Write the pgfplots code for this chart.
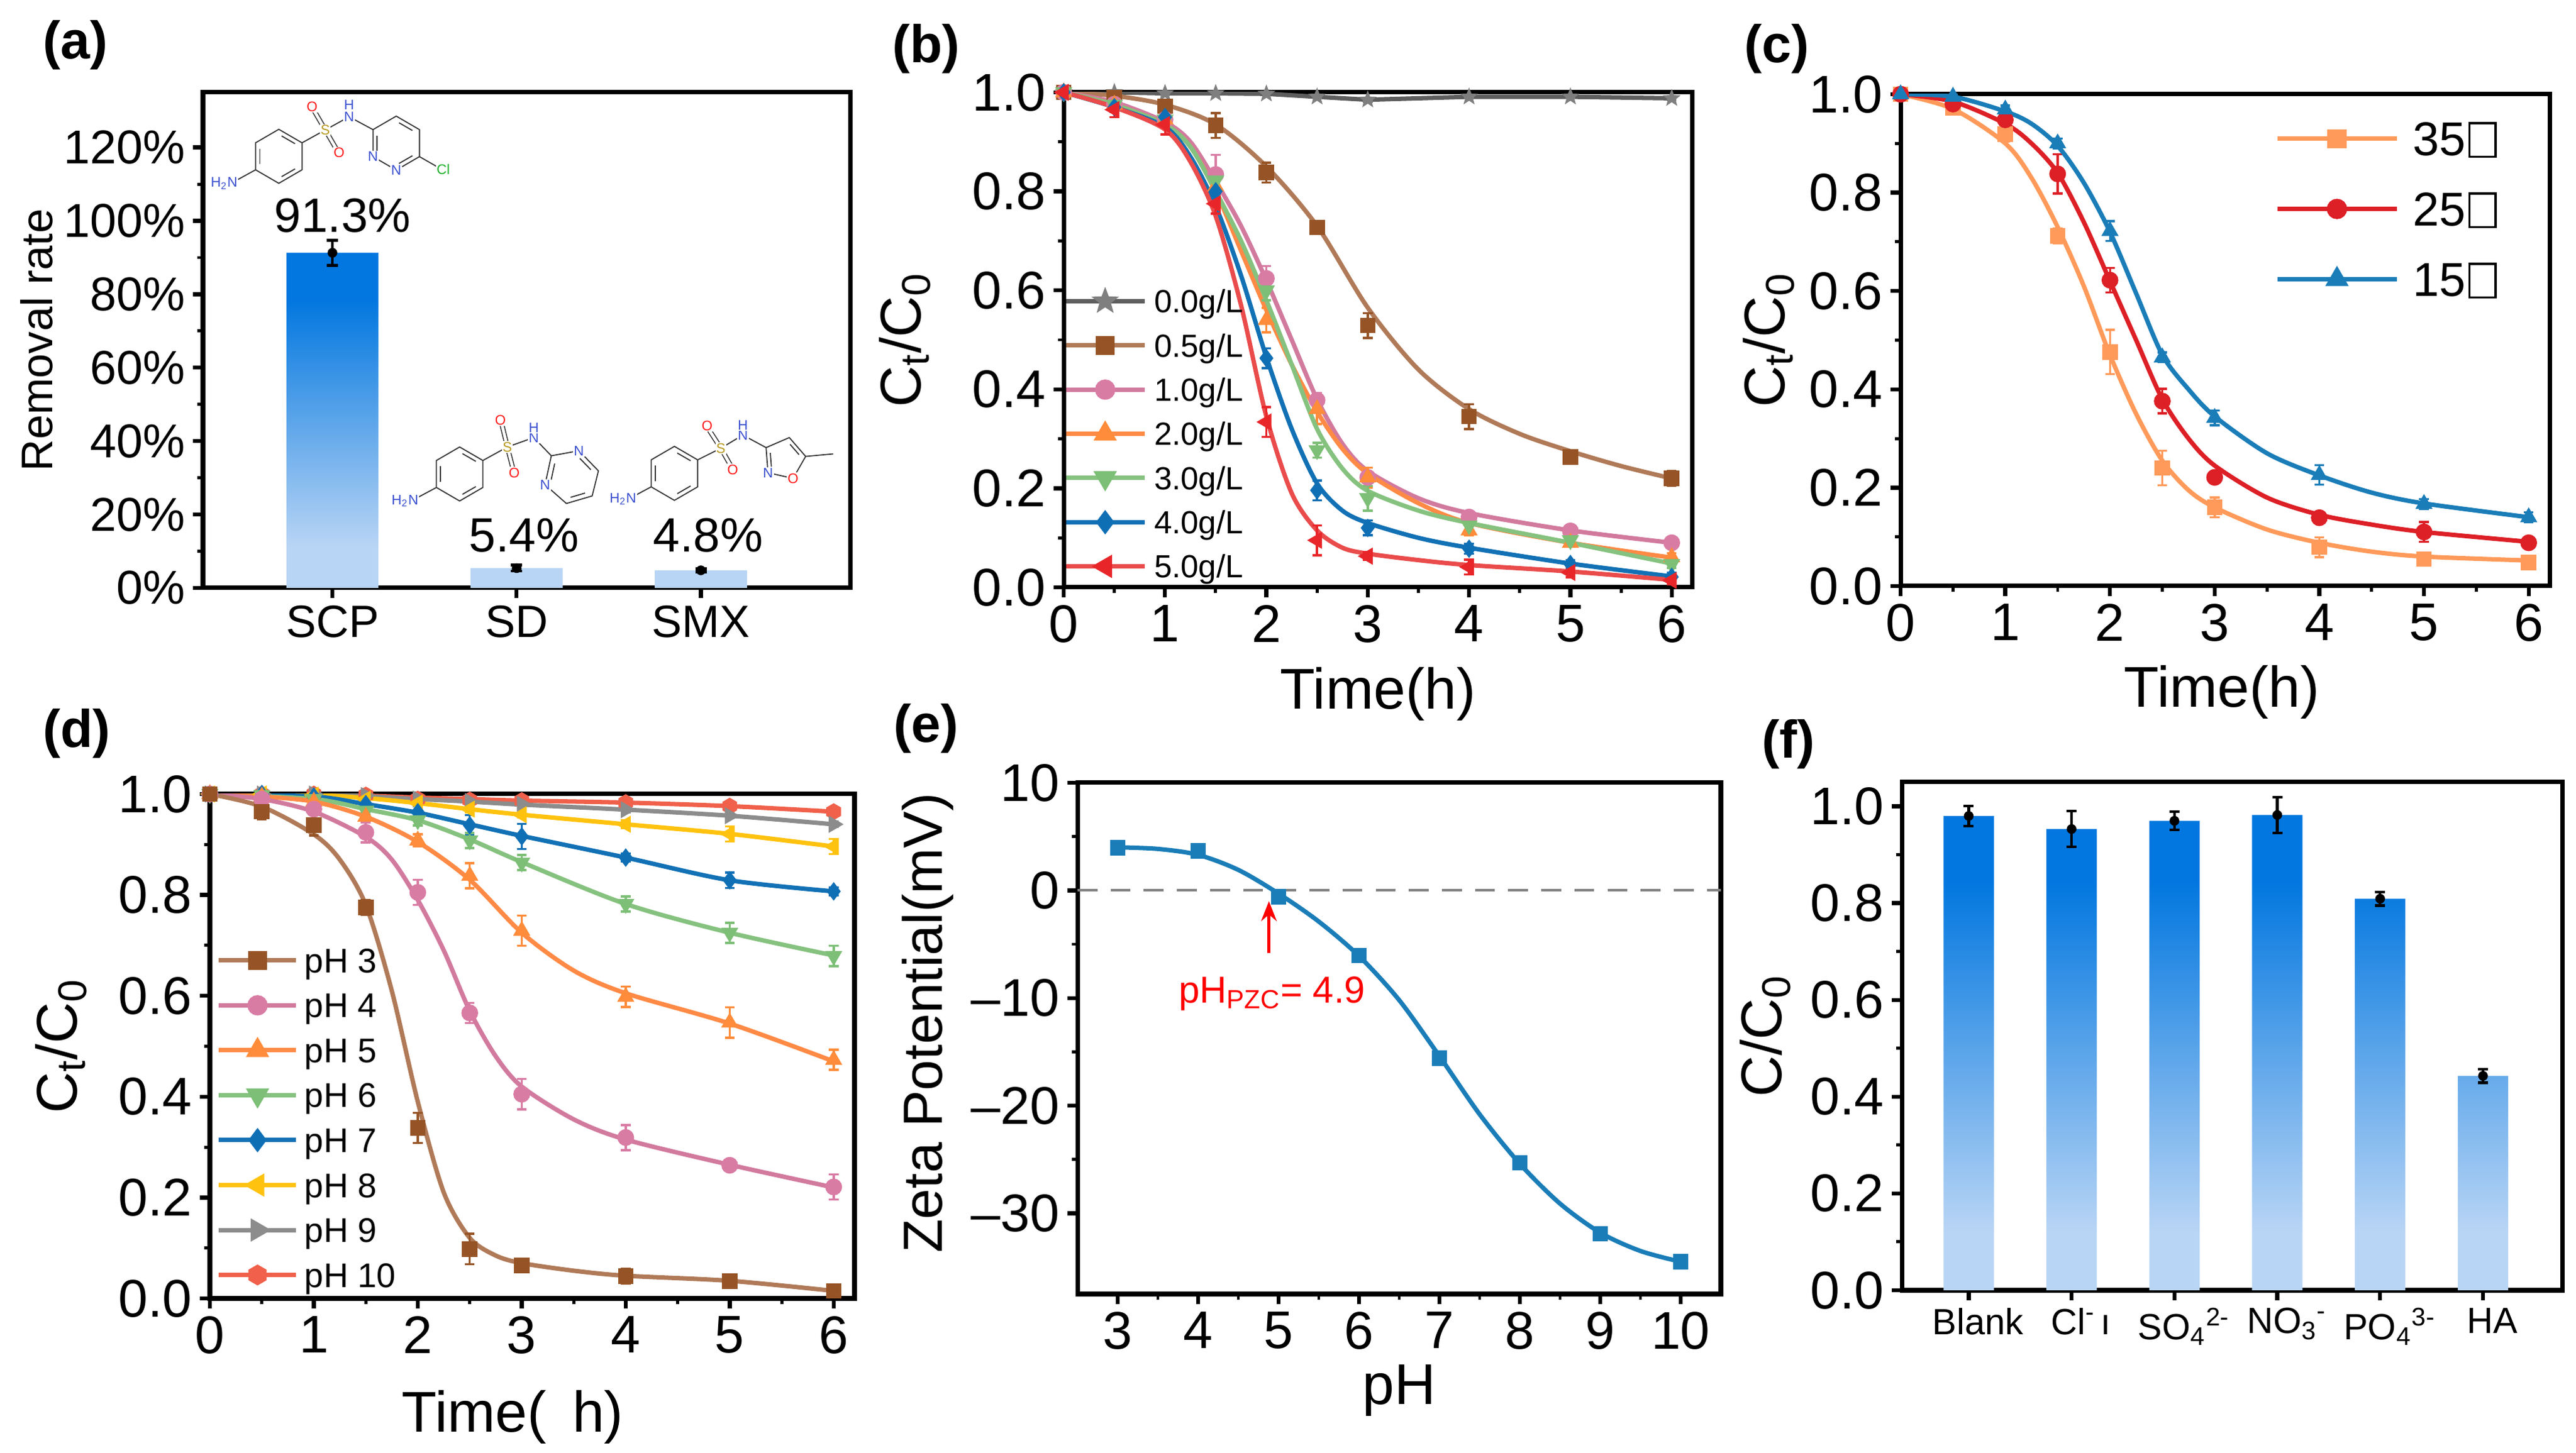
\documentclass[border=0pt]{standalone}
\usepackage{fontspec}
\setmainfont{Liberation Sans}
\usepackage{pgfplots}
\pgfplotsset{compat=1.18}
\usetikzlibrary{calc,arrows.meta}

\definecolor{barD}{HTML}{0277DF}
\definecolor{barL}{HTML}{B9D5F5}
\pgfdeclareverticalshading{barshade}{100bp}{color(0bp)=(barL); color(25bp)=(barL); color(31bp)=(barL); color(68bp)=(barD); color(75bp)=(barD); color(100bp)=(barD)}

\definecolor{grL}{HTML}{5E5E5E}\definecolor{grM}{HTML}{7F7F7F}
\definecolor{brL}{HTML}{B07A58}\definecolor{brM}{HTML}{965426}
\definecolor{pkL}{HTML}{D27A9E}\definecolor{pkM}{HTML}{D97CA4}
\definecolor{orL}{HTML}{FF8A45}\definecolor{orM}{HTML}{FF8C3A}
\definecolor{gnL}{HTML}{86C27F}\definecolor{gnM}{HTML}{7DBF76}
\definecolor{blL}{HTML}{1271B5}\definecolor{blM}{HTML}{0F6FB5}
\definecolor{rdL}{HTML}{EA4B4B}\definecolor{rdM}{HTML}{E8262A}
\definecolor{cA}{HTML}{FF9A5A}\definecolor{cB}{HTML}{DD1F26}\definecolor{cC}{HTML}{1A7DB8}
\definecolor{yeL}{HTML}{FFC20E}\definecolor{g9}{HTML}{8C8C8C}\definecolor{p10}{HTML}{F0604A}
\definecolor{zeta}{HTML}{1A7DB8}
\definecolor{atN}{HTML}{3A4FD0}\definecolor{atO}{HTML}{FF1A1A}\definecolor{atS}{HTML}{B89A20}\definecolor{atCl}{HTML}{1DB02A}
\definecolor{bondc}{HTML}{333333}

\pgfdeclareplotmark{fstar}{%
 \pgfpathmoveto{\pgfpointpolar{90}{\pgfplotmarksize}}%
 \pgfpathlineto{\pgfpointpolar{126}{0.42\pgfplotmarksize}}%
 \pgfpathlineto{\pgfpointpolar{162}{\pgfplotmarksize}}%
 \pgfpathlineto{\pgfpointpolar{198}{0.42\pgfplotmarksize}}%
 \pgfpathlineto{\pgfpointpolar{234}{\pgfplotmarksize}}%
 \pgfpathlineto{\pgfpointpolar{270}{0.42\pgfplotmarksize}}%
 \pgfpathlineto{\pgfpointpolar{306}{\pgfplotmarksize}}%
 \pgfpathlineto{\pgfpointpolar{342}{0.42\pgfplotmarksize}}%
 \pgfpathlineto{\pgfpointpolar{18}{\pgfplotmarksize}}%
 \pgfpathlineto{\pgfpointpolar{54}{0.42\pgfplotmarksize}}%
 \pgfpathclose\pgfusepathqfillstroke}
\pgfdeclareplotmark{tdown}{%
 \pgfpathmoveto{\pgfpointpolar{-90}{\pgfplotmarksize}}%
 \pgfpathlineto{\pgfpointpolar{30}{\pgfplotmarksize}}%
 \pgfpathlineto{\pgfpointpolar{150}{\pgfplotmarksize}}%
 \pgfpathclose\pgfusepathqfillstroke}
\pgfdeclareplotmark{tleft}{%
 \pgfpathmoveto{\pgfpointpolar{180}{\pgfplotmarksize}}%
 \pgfpathlineto{\pgfpointpolar{60}{\pgfplotmarksize}}%
 \pgfpathlineto{\pgfpointpolar{-60}{\pgfplotmarksize}}%
 \pgfpathclose\pgfusepathqfillstroke}
\pgfdeclareplotmark{tright}{%
 \pgfpathmoveto{\pgfpointpolar{0}{\pgfplotmarksize}}%
 \pgfpathlineto{\pgfpointpolar{120}{\pgfplotmarksize}}%
 \pgfpathlineto{\pgfpointpolar{240}{\pgfplotmarksize}}%
 \pgfpathclose\pgfusepathqfillstroke}
\pgfdeclareplotmark{hexa}{%
 \pgfpathmoveto{\pgfpointpolar{30}{\pgfplotmarksize}}%
 \pgfpathlineto{\pgfpointpolar{90}{\pgfplotmarksize}}%
 \pgfpathlineto{\pgfpointpolar{150}{\pgfplotmarksize}}%
 \pgfpathlineto{\pgfpointpolar{210}{\pgfplotmarksize}}%
 \pgfpathlineto{\pgfpointpolar{270}{\pgfplotmarksize}}%
 \pgfpathlineto{\pgfpointpolar{330}{\pgfplotmarksize}}%
 \pgfpathclose\pgfusepathqfillstroke}

\newcommand{\nog}{\hspace{0.06em}{\setlength{\fboxsep}{0pt}\setlength{\fboxrule}{1pt}\fbox{\rule{0pt}{0.66em}\hspace{0.5em}}}}

\pgfplotsset{
 P/.style={scale only axis, anchor=south west,
  axis line style={line width=2pt},
  tick style={black, line width=1.8pt}, minor tick style={line width=1.4pt},
  major tick length=0.16cm, minor tick length=0.09cm,
  tick align=outside, tick pos=left,
  tick label style={font=\fontsize{24}{28}\selectfont},
  /pgf/number format/assume math mode=true,
  label style={font=\fontsize{26}{30}\selectfont},
  xlabel style={anchor=center}, ylabel style={anchor=center},
  legend cell align=left},
 Y1/.style={yticklabel style={/pgf/number format/.cd, fixed, fixed zerofill, precision=1}},
 mSq/.style={mark=square*, mark size=3.3pt},
 mCi/.style={mark=*, mark size=3.6pt},
 mTu/.style={mark=triangle*, mark size=4.1pt},
 mTd/.style={mark=tdown, mark size=4.1pt},
 mTl/.style={mark=tleft, mark size=4.1pt},
 mTr/.style={mark=tright, mark size=4.1pt},
 mDi/.style={mark=diamond*, mark size=3.9pt},
 mSt/.style={mark=fstar, mark size=3.7pt},
 mHx/.style={mark=hexa, mark size=3.6pt},
}

% series: line colour, mark colour, mark style, marks table, curve, line type
\newcommand{\ser}[6]{%
 \addplot[forget plot, #6, color=#1, line width=2pt] coordinates {#5};
 \addplot[forget plot, only marks, color=#2, #3,
   error bars/.cd, y dir=both, y explicit,
   error bar style={line width=1pt, color=#2},
   error mark options={rotate=90, mark size=2.2pt, line width=1pt, color=#2}]
   table[row sep=\\, y error index=2] {#4};
}
% pointy-top hexagon, r = 43 px, inner lines on left, top-right and bottom-right edges
\newcommand{\hexring}[2]{%
  \draw[bond] (#1,#2-43) -- (#1+37,#2-21.5) -- (#1+37,#2+21.5) -- (#1,#2+43) -- (#1-37,#2+21.5) -- (#1-37,#2-21.5) -- cycle;
  \draw[bond] (#1+4.5,#2-32.4) -- (#1+25.8,#2-20.1);
  \draw[bond] (#1+25.8,#2+20.1) -- (#1+4.5,#2+32.4);
  \draw[bond] (#1-30.3,#2-12.3) -- (#1-30.3,#2+12.3);}

\begin{document}
\begin{tikzpicture}
\useasboundingbox (0,0) rectangle (41cm,23.13cm);

% ---------------- (a)
\begin{axis}[P, at={(3.23cm,13.77cm)}, width=10.30cm, height=7.89cm,
 xmin=0.297, xmax=3.81, ymin=0, ymax=135,
 xtick={1,2,3}, xticklabels={SCP,SD,SMX},
 xticklabel style={font=\fontsize{20.5}{24}\selectfont},
 yticklabel style={font=\fontsize{21.5}{25}\selectfont},
 ytick={0,20,40,60,80,100,120}, yticklabels={0\%,20\%,40\%,60\%,80\%,100\%,120\%},
 minor y tick num=1,
 ylabel={Removal rate},
 ylabel style={at={(axis description cs:-0.257,0.5)}, font=\fontsize{20}{24}\selectfont}]
\addplot[ybar, bar width=0.5, draw=none, shading=barshade] coordinates {(1,91.3) (2,5.4) (3,4.8)};
\addplot[only marks, mark=none, black, error bars/.cd, y dir=both, y explicit,
  error bar style={line width=1.3pt, black},
  error mark options={rotate=90, mark size=0.09cm, line width=1.3pt, black}]
  coordinates {(1,91.3) +- (0,3.4) (2,5.4) +- (0,0.8) (3,4.8) +- (0,0.4)};
\node[font=\fontsize{21.8}{26}\selectfont] at (axis cs:1.055,101.4) {91.3\%};
\node[font=\fontsize{21.8}{26}\selectfont] at (axis cs:2.04,14.3) {5.4\%};
\node[font=\fontsize{21.8}{26}\selectfont] at (axis cs:3.04,14.3) {4.8\%};
\end{axis}

% ---------------- (b)
\begin{axis}[P, Y1, at={(16.93cm,13.78cm)}, width=10.0cm, height=7.88cm,
 xmin=0, xmax=6.2, ymin=0, ymax=1,
 xtick={0,1,2,3,4,5,6}, ytick={0,0.2,0.4,0.6,0.8,1.0},
 minor x tick num=1, minor y tick num=1,
 xlabel={Time(h)}, ylabel={C\textsubscript{t}/C\textsubscript{0}},
 xlabel style={at={(axis description cs:0.5,-0.216)}},
 ylabel style={at={(axis description cs:-0.253,0.5)}},
 legend image code/.code={\draw[mark repeat=2,mark phase=2] plot coordinates {(0cm,0cm) (0.625cm,0cm) (1.25cm,0cm)};},
 legend style={at={(axis description cs:0,0.613)}, anchor=north west, draw=none, fill=none,
   inner sep=0pt, outer sep=0pt, row sep=0.151cm, column sep=0.12cm,
   font=\fontsize{14.5}{17}\selectfont,
   nodes={inner sep=0pt, text height=13.05pt, text depth=2.67pt}}]
\ser{grL}{grM}{mSt}{0 1.000 0\\0.5 1.000 0\\1 0.998 0.003\\1.5 0.998 0\\2 0.997 0\\2.5 0.991 0.003\\3 0.985 0.004\\4 0.991 0.003\\5 0.991 0.002\\6 0.988 0.003\\}
 {(0,1.000)(0.5,1.000)(1,0.998)(1.5,0.998)(2,0.997)(2.5,0.991)(3,0.985)(4,0.991)(5,0.991)(6,0.988)}{sharp plot}
\ser{brL}{brM}{mSq}{0 1.000 0\\0.5 0.990 0.005\\1 0.972 0.012\\1.5 0.933 0.025\\2 0.838 0.020\\2.5 0.727 0.010\\3 0.529 0.025\\4 0.345 0.025\\5 0.263 0.010\\6 0.220 0.015\\}
 {(0,1)(0.5,0.993)(1,0.975)(1.5,0.935)(2,0.85)(2.5,0.73)(3,0.565)(3.5,0.44)(4,0.36)(4.5,0.31)(5,0.275)(5.5,0.245)(6,0.22)}{smooth}
\ser{pkL}{pkM}{mCi}{0 1.000 0\\0.5 0.976 0.010\\1 0.945 0.015\\1.5 0.834 0.040\\2 0.624 0.025\\2.5 0.378 0.015\\3 0.222 0.010\\4 0.142 0.008\\5 0.114 0.010\\6 0.090 0.008\\}
 {(0,1)(0.5,0.98)(1,0.94)(1.25,0.9)(1.5,0.82)(1.75,0.73)(2,0.62)(2.25,0.5)(2.5,0.38)(2.75,0.29)(3,0.235)(3.5,0.18)(4,0.15)(5,0.115)(6,0.09)}{smooth}
\ser{orL}{orM}{mTu}{0 1.000 0\\0.5 0.975 0.008\\1 0.945 0.010\\1.5 0.810 0.020\\2 0.540 0.025\\2.5 0.360 0.030\\3 0.222 0.020\\4 0.115 0.010\\5 0.090 0.008\\6 0.061 0.008\\}
 {(0,1)(0.5,0.975)(1,0.935)(1.25,0.89)(1.5,0.8)(1.75,0.68)(2,0.56)(2.25,0.45)(2.5,0.355)(2.75,0.28)(3,0.23)(3.5,0.17)(4,0.13)(5,0.09)(6,0.06)}{smooth}
\ser{gnL}{gnM}{mTd}{0 1.000 0\\0.5 0.975 0.008\\1 0.945 0.010\\1.5 0.822 0.015\\2 0.600 0.020\\2.5 0.277 0.015\\3 0.180 0.025\\4 0.125 0.010\\5 0.095 0.010\\6 0.047 0.008\\}
 {(0,1)(0.5,0.975)(1,0.935)(1.25,0.89)(1.5,0.8)(1.75,0.7)(2,0.58)(2.25,0.45)(2.5,0.32)(2.75,0.24)(3,0.195)(3.5,0.155)(4,0.13)(5,0.09)(6,0.048)}{smooth}
\ser{blL}{blM}{mDi}{0 1.000 0\\0.5 0.970 0.010\\1 0.950 0.012\\1.5 0.800 0.030\\2 0.463 0.020\\2.5 0.196 0.020\\3 0.120 0.015\\4 0.078 0.010\\5 0.047 0.008\\6 0.021 0.008\\}
 {(0,1)(0.5,0.97)(1,0.93)(1.25,0.87)(1.5,0.77)(1.75,0.63)(2,0.465)(2.25,0.32)(2.5,0.21)(2.75,0.155)(3,0.13)(3.5,0.1)(4,0.08)(5,0.048)(6,0.022)}{smooth}
\ser{rdL}{rdM}{mTl}{0 1.000 0\\0.5 0.965 0.015\\1 0.935 0.020\\1.5 0.775 0.020\\2 0.334 0.030\\2.5 0.095 0.030\\3 0.063 0.008\\4 0.041 0.015\\5 0.030 0.010\\6 0.014 0.008\\}
 {(0,1)(0.5,0.97)(1,0.925)(1.25,0.86)(1.5,0.75)(1.75,0.57)(2,0.345)(2.25,0.19)(2.5,0.115)(2.75,0.08)(3,0.068)(3.5,0.055)(4,0.045)(5,0.032)(6,0.015)}{smooth}
\addlegendimage{color=grL, line width=2pt, mSt, mark options={color=grM}}\addlegendentry{0.0g/L}
\addlegendimage{color=brL, line width=2pt, mSq, mark options={color=brM}}\addlegendentry{0.5g/L}
\addlegendimage{color=pkL, line width=2pt, mCi, mark options={color=pkM}}\addlegendentry{1.0g/L}
\addlegendimage{color=orL, line width=2pt, mTu, mark options={color=orM}}\addlegendentry{2.0g/L}
\addlegendimage{color=gnL, line width=2pt, mTd, mark options={color=gnM}}\addlegendentry{3.0g/L}
\addlegendimage{color=blL, line width=2pt, mDi, mark options={color=blM}}\addlegendentry{4.0g/L}
\addlegendimage{color=rdL, line width=2pt, mTl, mark options={color=rdM}}\addlegendentry{5.0g/L}
\end{axis}

% ---------------- (c)
\begin{axis}[P, Y1, at={(30.25cm,13.80cm)}, width=10.33cm, height=7.83cm,
 xmin=0, xmax=6.2, ymin=0, ymax=1,
 xtick={0,1,2,3,4,5,6}, ytick={0,0.2,0.4,0.6,0.8,1.0},
 minor x tick num=1, minor y tick num=1,
 xlabel={Time(h)}, ylabel={C\textsubscript{t}/C\textsubscript{0}},
 xlabel style={at={(axis description cs:0.495,-0.216)}},
 ylabel style={at={(axis description cs:-0.203,0.5)}},
 legend image code/.code={\draw[mark repeat=2,mark phase=2] plot coordinates {(0cm,0cm) (0.95cm,0cm) (1.9cm,0cm)};},
 legend style={at={(axis description cs:0.577,0.962)}, anchor=north west, draw=none, fill=none,
   inner sep=0pt, outer sep=0pt, row sep=0.30cm, column sep=0.22cm,
   font=\fontsize{21.5}{25}\selectfont,
   nodes={inner sep=0pt, text height=19.35pt, text depth=3.96pt}}]
\ser{cA}{cA}{mSq}{0 1.000 0\\0.5 0.972 0.010\\1 0.919 0.015\\1.5 0.712 0.015\\2 0.476 0.045\\2.5 0.240 0.035\\3 0.160 0.020\\4 0.079 0.020\\5 0.055 0.010\\6 0.048 0.005\\}
 {(0,1)(0.5,0.97)(1,0.9)(1.25,0.83)(1.5,0.73)(1.75,0.61)(2,0.47)(2.25,0.35)(2.5,0.255)(2.75,0.195)(3,0.16)(3.5,0.115)(4,0.088)(4.5,0.07)(5,0.06)(6,0.052)}{smooth}
\ser{cB}{cB}{mCi}{0 1.000 0\\0.5 0.980 0.008\\1 0.948 0.010\\1.5 0.838 0.040\\2 0.622 0.025\\2.5 0.376 0.025\\3 0.221 0.008\\4 0.139 0.008\\5 0.110 0.020\\6 0.088 0.008\\}
 {(0,1)(0.5,0.985)(1,0.94)(1.25,0.9)(1.5,0.84)(1.75,0.74)(2,0.62)(2.25,0.5)(2.5,0.38)(2.75,0.3)(3,0.245)(3.5,0.18)(4,0.145)(4.5,0.125)(5,0.11)(6,0.09)}{smooth}
\ser{cC}{cC}{mTu}{0 1.000 0\\0.5 0.995 0.005\\1 0.969 0.008\\1.5 0.900 0.010\\2 0.722 0.020\\2.5 0.465 0.010\\3 0.342 0.015\\4 0.226 0.020\\5 0.167 0.010\\6 0.140 0.010\\}
 {(0,1)(0.5,0.995)(1,0.965)(1.25,0.94)(1.5,0.895)(1.75,0.82)(2,0.72)(2.25,0.595)(2.5,0.47)(2.75,0.4)(3,0.345)(3.5,0.27)(4,0.225)(4.5,0.19)(5,0.168)(6,0.14)}{smooth}
\addlegendimage{color=cA, line width=2pt, mSq}\addlegendentry{35\nog}
\addlegendimage{color=cB, line width=2pt, mCi}\addlegendentry{25\nog}
\addlegendimage{color=cC, line width=2pt, mTu}\addlegendentry{15\nog}
\end{axis}

% ---------------- (d)
\begin{axis}[P, Y1, at={(3.34cm,2.46cm)}, width=10.26cm, height=8.03cm,
 xmin=0, xmax=6.2, ymin=0, ymax=1,
 xtick={0,1,2,3,4,5,6}, ytick={0,0.2,0.4,0.6,0.8,1.0},
 minor x tick num=1, minor y tick num=1,
 xlabel={Time(\hspace{0.45em}h)}, ylabel={C\textsubscript{t}/C\textsubscript{0}},
 xlabel style={at={(axis description cs:0.47,-0.235)}},
 ylabel style={at={(axis description cs:-0.231,0.5)}},
 legend image code/.code={\draw[mark repeat=2,mark phase=2] plot coordinates {(0cm,0cm) (0.615cm,0cm) (1.23cm,0cm)};},
 legend style={at={(axis description cs:0.0106,0.707)}, anchor=north west, draw=none, fill=none,
   inner sep=0pt, outer sep=0pt, row sep=0.125cm, column sep=0.1cm,
   font=\fontsize{15.5}{18}\selectfont,
   nodes={inner sep=0pt, text height=13.95pt, text depth=2.85pt}}]
\ser{p10}{p10}{mHx}{0 1.000 0\\0.5 1.000 0\\1 1.000 0\\1.5 0.998 0\\2 0.990 0.005\\2.5 0.988 0.004\\3 0.987 0.004\\4 0.983 0.004\\5 0.976 0.005\\6 0.965 0.005\\}
 {(0,1)(1,1)(2,0.993)(2.5,0.99)(3,0.987)(4,0.983)(5,0.976)(6,0.965)}{smooth}
\ser{g9}{g9}{mTr}{0 1.000 0\\0.5 1.000 0\\1 1.000 0\\1.5 0.997 0\\2 0.990 0.004\\2.5 0.985 0.004\\3 0.980 0.004\\4 0.969 0.005\\5 0.957 0.005\\6 0.940 0.005\\}
 {(0,1)(1,1)(2,0.99)(2.5,0.985)(3,0.979)(4,0.969)(5,0.957)(6,0.94)}{smooth}
\ser{yeL}{yeL}{mTl}{0 1.000 0\\0.5 1.000 0\\1 0.998 0\\1.5 0.990 0.004\\2 0.982 0.005\\2.5 0.970 0.006\\3 0.959 0.006\\4 0.940 0.008\\5 0.921 0.015\\6 0.896 0.015\\}
 {(0,1)(1,0.998)(1.5,0.992)(2,0.982)(2.5,0.97)(3,0.959)(4,0.94)(5,0.921)(6,0.896)}{smooth}
\ser{blL}{blM}{mDi}{0 1.000 0\\0.5 1.000 0\\1 0.995 0.004\\1.5 0.980 0.008\\2 0.964 0.015\\2.5 0.938 0.020\\3 0.916 0.025\\4 0.874 0.008\\5 0.829 0.015\\6 0.807 0.008\\}
 {(0,1)(1,0.995)(1.5,0.98)(2,0.963)(2.5,0.94)(3,0.917)(4,0.874)(5,0.829)(6,0.807)}{smooth}
\ser{gnL}{gnM}{mTd}{0 1.000 0\\0.5 0.998 0\\1 0.990 0.005\\1.5 0.967 0.008\\2 0.948 0.010\\2.5 0.908 0.015\\3 0.864 0.015\\4 0.782 0.015\\5 0.725 0.020\\6 0.679 0.020\\}
 {(0,1)(1,0.99)(1.5,0.97)(2,0.948)(2.5,0.91)(3,0.865)(4,0.782)(5,0.725)(6,0.68)}{smooth}
\ser{orL}{orM}{mTu}{0 1.000 0\\0.5 0.995 0.004\\1 0.985 0.006\\1.5 0.955 0.010\\2 0.908 0.012\\2.5 0.838 0.025\\3 0.729 0.030\\4 0.598 0.020\\5 0.547 0.030\\6 0.473 0.020\\}
 {(0,1)(0.5,0.995)(1,0.985)(1.5,0.955)(2,0.905)(2.5,0.83)(3,0.725)(3.5,0.65)(4,0.605)(5,0.545)(6,0.47)}{smooth}
\ser{pkL}{pkM}{mCi}{0 1.000 0\\0.5 0.990 0.005\\1 0.970 0.010\\1.5 0.924 0.020\\2 0.805 0.025\\2.5 0.566 0.020\\3 0.405 0.030\\4 0.319 0.025\\5 0.264 0.010\\6 0.221 0.025\\}
 {(0,1)(0.5,0.99)(1,0.965)(1.5,0.915)(1.75,0.87)(2,0.79)(2.25,0.69)(2.5,0.57)(2.75,0.48)(3,0.42)(3.5,0.355)(4,0.315)(5,0.265)(6,0.22)}{smooth}
\ser{brL}{brM}{mSq}{0 1.000 0\\0.5 0.965 0.015\\1 0.938 0.020\\1.5 0.775 0.015\\2 0.338 0.030\\2.5 0.098 0.030\\3 0.065 0.010\\4 0.044 0.015\\5 0.034 0.010\\6 0.015 0.005\\}
 {(0,1)(0.5,0.975)(1,0.92)(1.25,0.87)(1.5,0.78)(1.75,0.61)(2,0.39)(2.25,0.21)(2.5,0.12)(2.75,0.085)(3,0.07)(3.5,0.055)(4,0.045)(5,0.035)(6,0.015)}{smooth}
\addlegendimage{color=brL, line width=2pt, mSq, mark options={color=brM}}\addlegendentry{pH 3}
\addlegendimage{color=pkL, line width=2pt, mCi, mark options={color=pkM}}\addlegendentry{pH 4}
\addlegendimage{color=orL, line width=2pt, mTu, mark options={color=orM}}\addlegendentry{pH 5}
\addlegendimage{color=gnL, line width=2pt, mTd, mark options={color=gnM}}\addlegendentry{pH 6}
\addlegendimage{color=blL, line width=2pt, mDi, mark options={color=blM}}\addlegendentry{pH 7}
\addlegendimage{color=yeL, line width=2pt, mTl}\addlegendentry{pH 8}
\addlegendimage{color=g9, line width=2pt, mTr}\addlegendentry{pH 9}
\addlegendimage{color=p10, line width=2pt, mHx}\addlegendentry{pH 10}
\end{axis}

% ---------------- (e)
\begin{axis}[P, at={(17.15cm,2.53cm)}, width=10.24cm, height=8.14cm,
 xmin=2.5, xmax=10.5, ymin=-37.5, ymax=10,
 xtick={3,4,5,6,7,8,9,10}, ytick={-30,-20,-10,0,10}, yticklabels={–30,–20,–10,0,10},
 minor x tick num=1, minor y tick num=1,
 xlabel={pH}, ylabel={Zeta Potential(mV)},
 xlabel style={at={(axis description cs:0.5,-0.189)}},
 ylabel style={at={(axis description cs:-0.233,0.53)}, font=\fontsize{25}{30}\selectfont}]
\addplot[gray, line width=1.2pt, dash pattern=on 9pt off 6pt, forget plot] coordinates {(2.5,0) (10.5,0)};
\addplot[zeta, line width=2pt, smooth] coordinates {(3,4.0)(3.5,3.85)(4,3.3)(4.5,1.9)(5,-0.3)(5.5,-2.9)(6,-6.1)(6.5,-10.2)(7,-15.4)(7.5,-20.8)(8,-25.4)(8.5,-29.1)(9,-31.8)(9.5,-33.5)(10,-34.5)};
\addplot[only marks, mark=square*, mark size=3.3pt, color=zeta] coordinates {(3,3.96)(4,3.65)(5,-0.58)(6,-6.06)(7,-15.6)(8,-25.3)(9,-31.9)(10,-34.5)};
\draw[red, line width=1.6pt, -{Stealth[length=9pt, width=7pt]}] (axis cs:4.88,-5.8) -- (axis cs:4.88,-1.0);
\node[red, font=\fontsize{17}{20}\selectfont] at (axis cs:4.92,-9.6) {pH\textsubscript{PZC}= 4.9};
\end{axis}

% ---------------- (f)
\begin{axis}[P, Y1, at={(30.27cm,2.59cm)}, width=10.51cm, height=8.09cm,
 xmin=0.35, xmax=6.77, ymin=0, ymax=1.05,
 xtick={1,2,3,4,5,6},
 xticklabels={Blank, Cl\textsuperscript{-}\,ı, SO\textsubscript{4}\textsuperscript{2-}, NO\textsubscript{3}\textsuperscript{-}, PO\textsubscript{4}\textsuperscript{3-}, HA},
 xticklabel style={font=\fontsize{16.5}{19}\selectfont, xshift=0.15cm},
 ytick={0,0.2,0.4,0.6,0.8,1.0}, minor y tick num=1,
 ylabel={C/C\textsubscript{0}},
 ylabel style={at={(axis description cs:-0.207,0.5)}}]
\addplot[ybar, bar width=0.49, draw=none, shading=barshade] coordinates {(1,0.980) (2,0.953) (3,0.970) (4,0.982) (5,0.809) (6,0.443)};
\addplot[only marks, mark=none, black, error bars/.cd, y dir=both, y explicit,
  error bar style={line width=1.2pt, black},
  error mark options={rotate=90, mark size=0.08cm, line width=1.2pt, black}]
  coordinates {(1,0.980) +- (0,0.021) (2,0.953) +- (0,0.037) (3,0.970) +- (0,0.019) (4,0.982) +- (0,0.037) (5,0.809) +- (0,0.014) (6,0.443) +- (0,0.014)};
\end{axis}

% ---------------- panel letters and structures (reference pixel frame)
\begin{scope}[x=0.01cm, y=-0.01cm, shift={(0cm,23.13cm)},
  bond/.style={line width=0.5pt, bondc}, dbond/.style={double=white, double distance=1.3pt, line width=0.45pt, bondc},
  atm/.style={fill=white, inner sep=0.4pt, font=\fontsize{6.3}{7}\selectfont}]
\foreach \t/\px/\py in {(a)/120/72, (b)/1475/78, (c)/2830/78, (d)/122/1168, (e)/1475/1160, (f)/2848/1185}
  \node[font=\bfseries\fontsize{24}{28}\selectfont] at (\px,\py) {\t};
% SCP
\hexring{444}{249}\hexring{631}{228}
\draw[bond] (407,270.5) -- (377,287);
\draw[bond] (481,227.5) -- (518,207) -- (556,186) -- (594,206.5);
\draw[dbond] (518,207) -- (500,176);
\draw[dbond] (518,207) -- (536,238);
\draw[bond] (668,249.5) -- (695,265);
\node[atm, text=atN] at (357,292) {H\textsubscript{2}N};
\node[atm, text=atS] at (518,207) {S};
\node[atm, text=atO] at (497,170) {O};
\node[atm, text=atO] at (540,243) {O};
\node[atm, text=atN] at (556,186) {N};
\node[atm, text=atN] at (556,167) {H};
\node[atm, text=atN] at (594,249.5) {N};
\node[atm, text=atN] at (631,271) {N};
\node[atm, text=atCl] at (706,270) {Cl};
% SD
\hexring{732}{755}
\draw[bond] (878,726) -- (922,718) -- (953,750) -- (943,790) -- (902,802) -- (868,772) -- cycle;
\draw[bond] (883.4,738.3) -- (877.8,764.1);
\draw[bond] (923.5,730.2) -- (940.9,748.2);
\draw[bond] (931.7,785.4) -- (908.7,792.2);
\draw[bond] (695,776.5) -- (666,792);
\draw[bond] (769,733.5) -- (808,712) -- (850,697) -- (878,726);
\draw[dbond] (808,712) -- (799,675);
\draw[dbond] (808,712) -- (817,747);
\node[atm, text=atN] at (645,798) {H\textsubscript{2}N};
\node[atm, text=atS] at (808,712) {S};
\node[atm, text=atO] at (797,669) {O};
\node[atm, text=atO] at (819,753) {O};
\node[atm, text=atN] at (850,697) {N};
\node[atm, text=atN] at (850,681) {H};
\node[atm, text=atN] at (922,718) {N};
\node[atm, text=atN] at (868,772) {N};
% SMX
\hexring{1074}{754}
\draw[bond] (1037,775.5) -- (1010,790);
\draw[bond] (1111,732.5) -- (1148,714) -- (1183,693) -- (1220,713);
\draw[dbond] (1148,714) -- (1128,683);
\draw[dbond] (1148,714) -- (1165,744);
\draw[bond] (1220,713) -- (1257,697) -- (1283,727) -- (1263,762) -- (1223,753) -- cycle;
\draw[bond] (1226.7,721.4) -- (1228.4,743.2);
\draw[bond] (1258.2,707.8) -- (1272.5,724.2);
\draw[bond] (1283,727) -- (1327,723);
\node[atm, text=atN] at (992,795) {H\textsubscript{2}N};
\node[atm, text=atS] at (1148,714) {S};
\node[atm, text=atO] at (1126,678) {O};
\node[atm, text=atO] at (1167,748) {O};
\node[atm, text=atN] at (1183,693) {N};
\node[atm, text=atN] at (1183,677) {H};
\node[atm, text=atO] at (1263,762) {O};
\node[atm, text=atN] at (1223,753) {N};
\end{scope}
\end{tikzpicture}
\end{document}
